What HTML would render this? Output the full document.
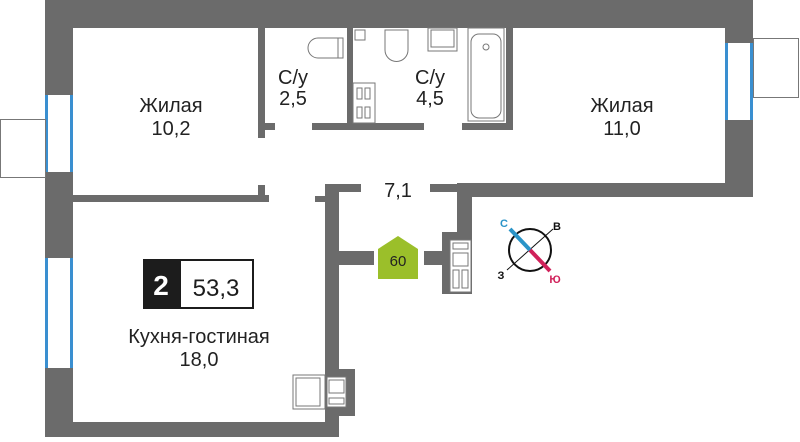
<!DOCTYPE html>
<html><head><meta charset="utf-8"><style>
body{margin:0;background:#fff}
svg text{font-family:"Liberation Sans",sans-serif}
</style></head><body>
<svg width="800" height="437" viewBox="0 0 800 437" xmlns="http://www.w3.org/2000/svg">
<g fill="#6b6b6b">
<rect x="45" y="0" width="708" height="28"/>
<rect x="45" y="0" width="28" height="437"/>
<rect x="45" y="422" width="294" height="15"/>
<rect x="725" y="0" width="28" height="197"/>
<rect x="457" y="183" width="296" height="14"/>
<rect x="457" y="183" width="15" height="50"/>
<rect x="442" y="232" width="30" height="62"/>
<rect x="430" y="184" width="42" height="8"/>
<rect x="325" y="184" width="36" height="8"/>
<rect x="325" y="184" width="14" height="253"/>
<rect x="315" y="196" width="12" height="6"/>
<rect x="325" y="251" width="49" height="14"/>
<rect x="424" y="251" width="20" height="14"/>
<rect x="325" y="369" width="30" height="47"/>
<rect x="258" y="28" width="7" height="110"/>
<rect x="258" y="123" width="17" height="7"/>
<rect x="258" y="185" width="7" height="12"/>
<rect x="73" y="195" width="196" height="7"/>
<rect x="347" y="28" width="6" height="102"/>
<rect x="312" y="123" width="112" height="7"/>
<rect x="462" y="123" width="51" height="7"/>
<rect x="506" y="28" width="7" height="102"/>
</g>
<g fill="#fff"><rect x="45" y="95" width="28" height="77"/><rect x="45" y="258" width="28" height="110"/><rect x="725" y="43" width="28" height="77"/></g>
<g fill="#3a8fd0"><rect x="45" y="95" width="3" height="77"/><rect x="70" y="95" width="3" height="77"/><rect x="45" y="258" width="3" height="110"/><rect x="70" y="258" width="3" height="110"/><rect x="725" y="43" width="3" height="77"/><rect x="750" y="43" width="3" height="77"/></g>
<g fill="none" stroke="#777" stroke-width="1">
<rect x="0.5" y="119.5" width="45" height="58"/>
<rect x="753.5" y="38.5" width="45" height="59"/>
<path d="M343 38 H318 A10 10 0 0 0 318 58 H343 Z"/>
<rect x="338" y="38" width="5" height="20"/>
<rect x="355" y="30" width="10" height="10"/>
<path d="M385 30 H408 V50 A11 11 0 0 1 385 50 Z"/>
<rect x="428" y="28" width="29" height="23"/>
<rect x="431" y="30" width="23" height="17"/>
<rect x="468" y="28" width="36" height="93"/>
<rect x="471" y="34" width="30" height="84" rx="8"/>
<circle cx="486" cy="47" r="3"/>
<rect x="353" y="83" width="22" height="40"/>
<rect x="357" y="88" width="5" height="11"/><rect x="365" y="88" width="5" height="11"/>
<rect x="357" y="107" width="5" height="11"/><rect x="365" y="107" width="5" height="11"/>
<rect x="450" y="240" width="21" height="52" fill="#fff"/>
<rect x="453" y="243" width="15" height="6"/><rect x="453" y="253" width="15" height="13"/>
<rect x="453" y="270" width="6" height="18"/><rect x="462" y="270" width="6" height="18"/>
<rect x="293" y="375" width="32" height="34" fill="#fff"/>
<rect x="296" y="378" width="24" height="28"/>
<rect x="327" y="377" width="19" height="30" fill="#fff"/>
<rect x="329" y="380" width="15" height="13"/><rect x="329" y="398" width="15" height="6"/>
</g>
<polygon points="378,249 398,236 418,249 418,279 378,279" fill="#9bbf2a"/>
<text x="398" y="266" font-size="15" text-anchor="middle" fill="#222">60</text>
<g font-size="20" fill="#222" text-anchor="middle">
<text x="171" y="112">Жилая</text><text x="171" y="135">10,2</text>
<text x="293" y="84">С/у</text><text x="293" y="105">2,5</text>
<text x="430" y="84">С/у</text><text x="430" y="105">4,5</text>
<text x="622" y="112">Жилая</text><text x="622" y="135">11,0</text>
<text x="398" y="197">7,1</text>
<text x="199" y="343">Кухня-гостиная</text><text x="199" y="366">18,0</text>
</g>
<rect x="143" y="259" width="37" height="50" fill="#1c1c1c"/>
<rect x="180" y="260" width="73" height="48" fill="#fff" stroke="#1c1c1c" stroke-width="2"/>
<text x="161" y="295" font-size="28" font-weight="bold" fill="#fff" text-anchor="middle">2</text>
<text x="216" y="296" font-size="24" fill="#1c1c1c" text-anchor="middle">53,3</text>
<circle cx="530" cy="250" r="21" fill="none" stroke="#111" stroke-width="2"/>
<line x1="507" y1="270" x2="553" y2="229" stroke="#111" stroke-width="1"/>
<line x1="510" y1="229" x2="530" y2="250" stroke="#2a94c8" stroke-width="4"/>
<line x1="530" y1="250" x2="550" y2="271" stroke="#d0215a" stroke-width="4"/>
<text x="504" y="227" font-size="11" font-weight="bold" fill="#2a94c8" text-anchor="middle">С</text>
<text x="557" y="230" font-size="11" font-weight="bold" fill="#111" text-anchor="middle">В</text>
<text x="501" y="279" font-size="11" font-weight="bold" fill="#111" text-anchor="middle">З</text>
<text x="555" y="283" font-size="11" font-weight="bold" fill="#d0215a" text-anchor="middle">Ю</text>
</svg>
</body></html>
